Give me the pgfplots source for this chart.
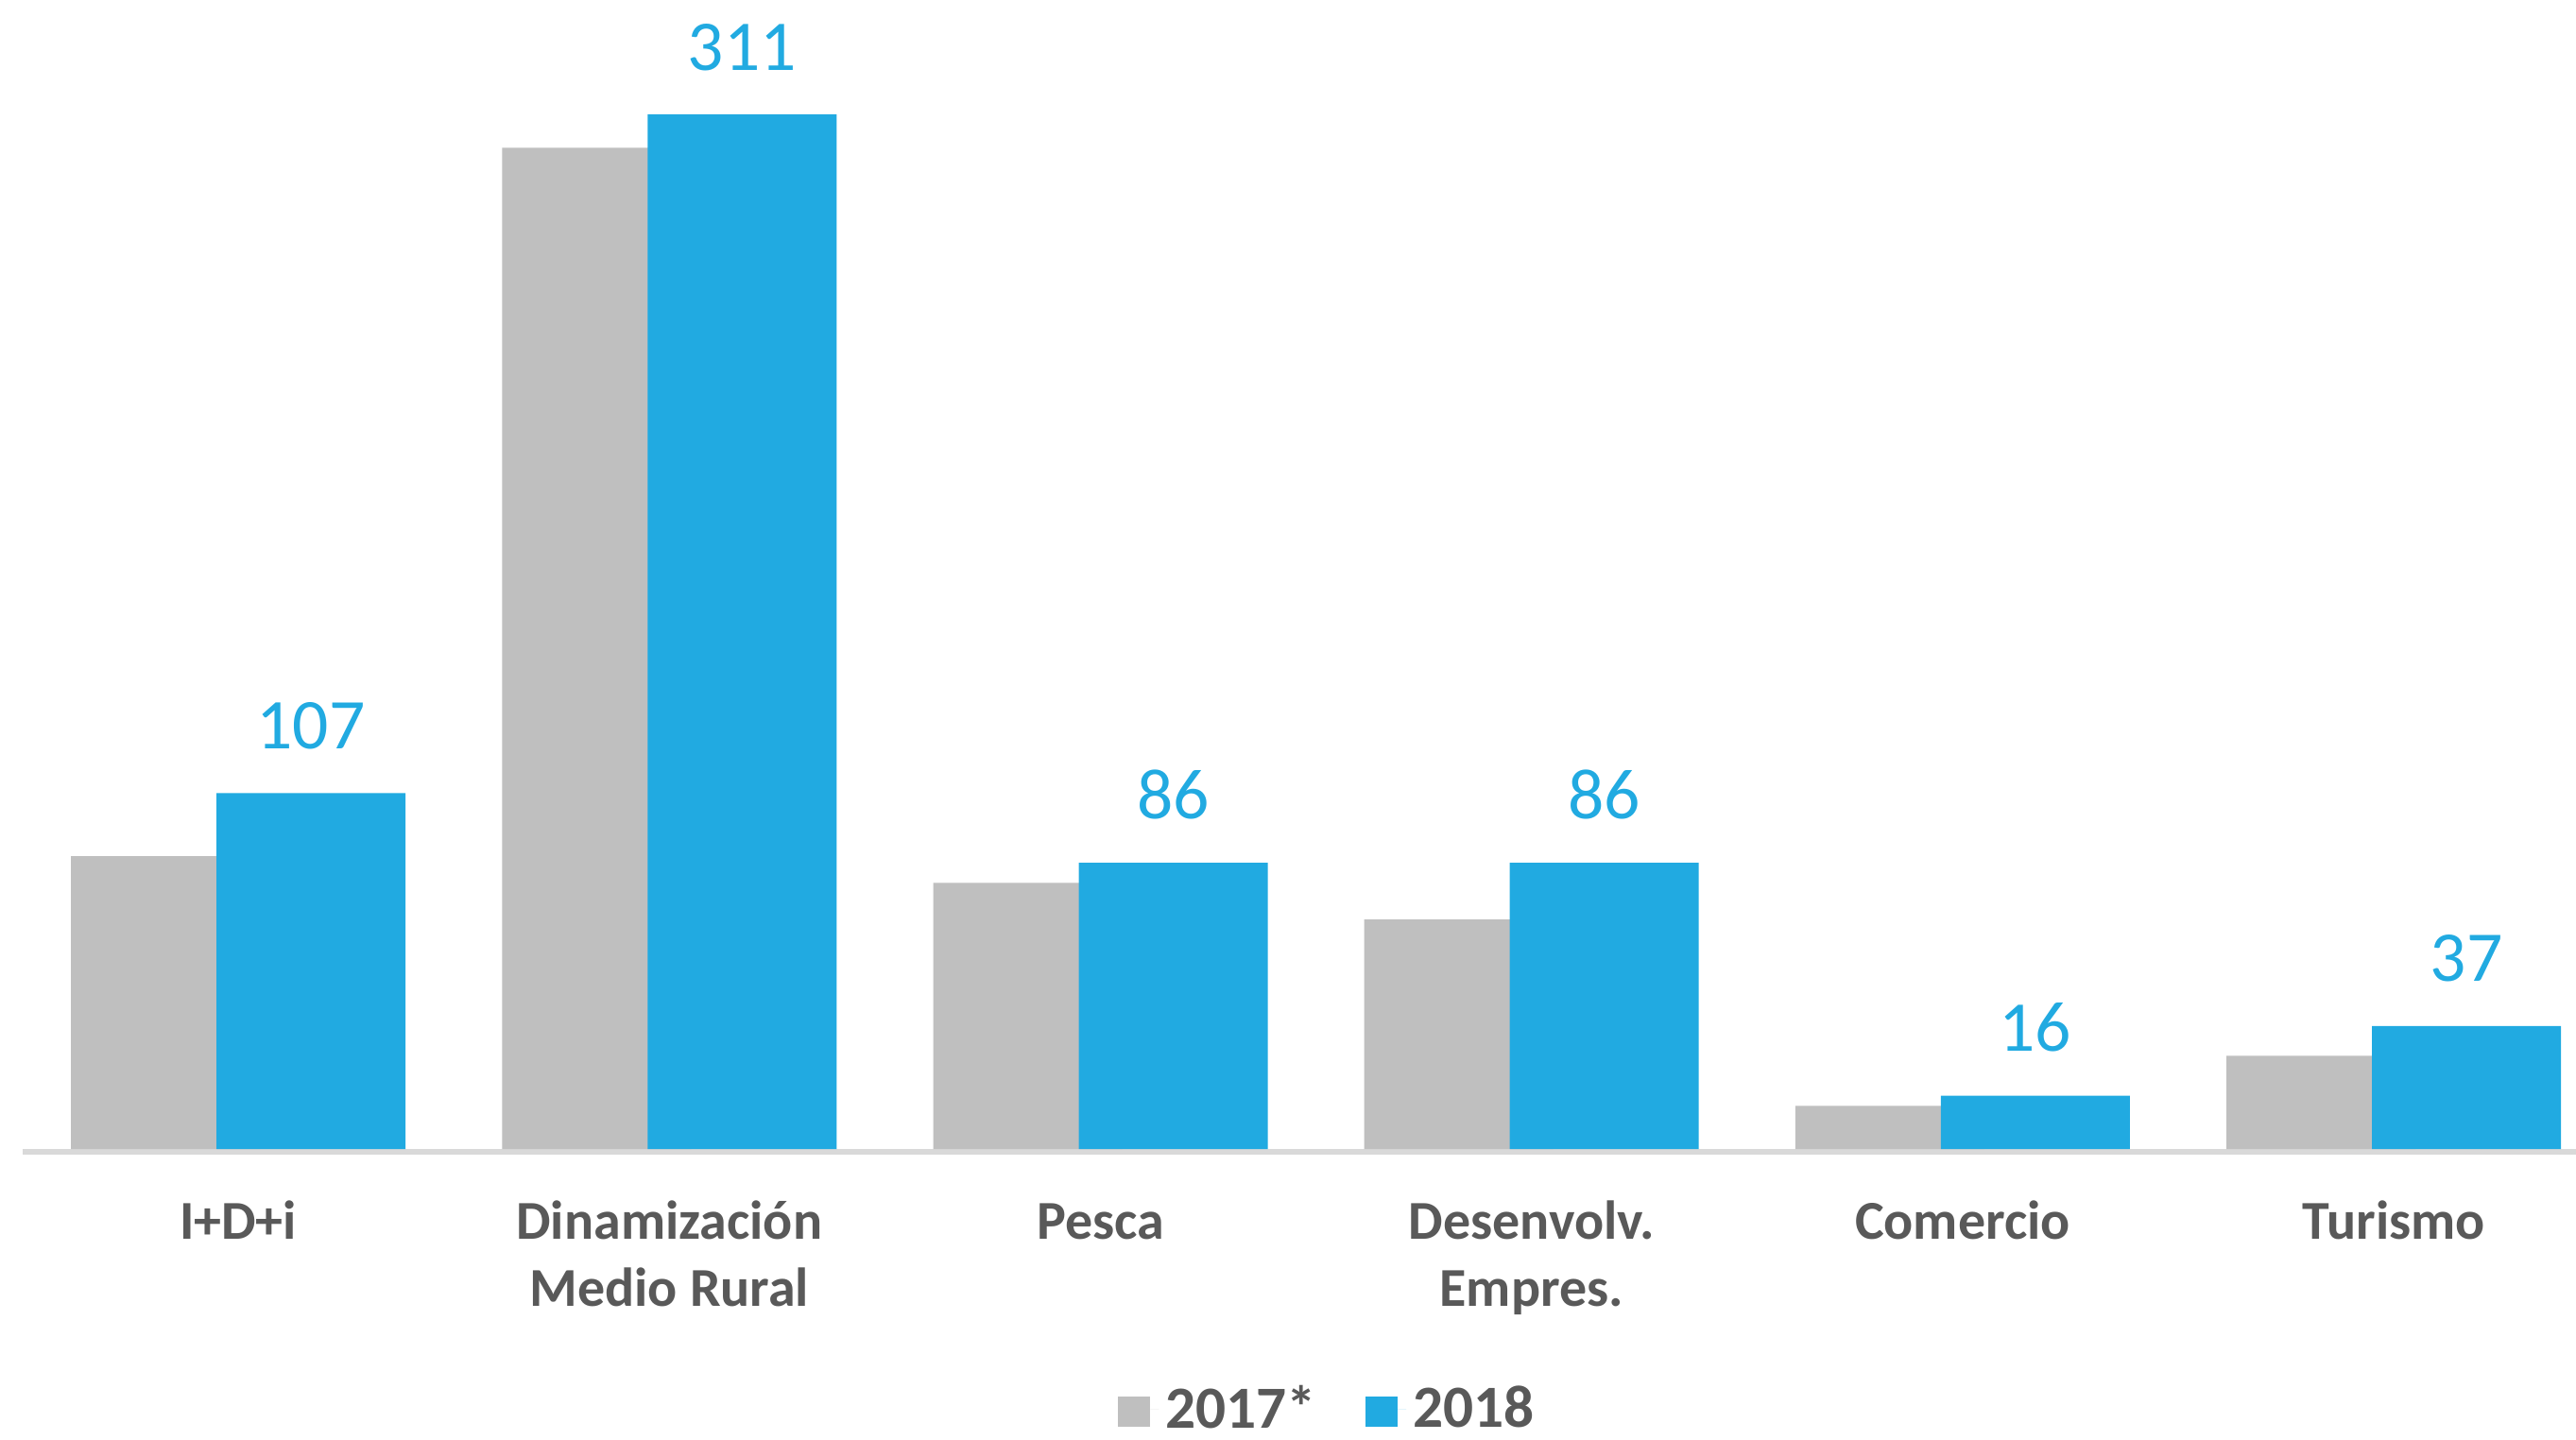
\documentclass[border=0pt]{standalone}
\usepackage{fontspec}
\setmainfont{Carlito}
\usepackage{pgfplots}
\pgfplotsset{compat=1.18}
\definecolor{barblue}{HTML}{21AAE1}
\definecolor{bargray}{HTML}{BFBFBF}
\definecolor{txtgray}{HTML}{595959}
\definecolor{axgray}{HTML}{D9D9D9}
\pgfplotstableread{
x v2017 v2018
0 88 107
1 301 311
2 80 86
3 69 86
4 13 16
5 28 37
}\datatable
\begin{document}
\begin{tikzpicture}
\begin{axis}[
  at={(0.24cm,3.07cm)}, anchor=south west,
  scale only axis, width=27.02cm, height=11.97cm,
  xmin=-0.5, xmax=5.4228, ymin=0, ymax=340,
  enlargelimits=false, clip=false,
  /pgf/number format/assume math mode=true,
  ybar,
  axis y line=none,
  axis x line*=bottom,
  x axis line style={-, draw=axgray, line width=0.6mm, yshift=-0.3mm},
  xtick={0,...,5},
  xticklabels={{\strut I+D+i},{\strut Dinamización\\Medio Rural},{\strut Pesca},{\strut Desenvolv.\\Empres.},{\strut Comercio},{\strut Turismo}},
  major tick length=0pt,
  xticklabel style={align=center, font=\bfseries\fontsize{16.5}{20.2}\selectfont, text=txtgray, anchor=north, inner sep=0pt, yshift=-4.53mm},
  ytick=\empty,
  legend style={at={(rel axis cs:0.5118,-0.2300)}, anchor=center, legend columns=2, draw=none,
    font=\bfseries\fontsize{18}{20}\selectfont, text=txtgray,
    /tikz/every even column/.append style={column sep=4.5mm}},
  legend image code/.code={\fill[#1] (0,-1.9mm) rectangle (3.4mm,1.3mm); \path (3.4mm,0) -- (4.3mm,0);},
]
\addplot[ybar, bar width=0.4384, bar shift=-0.1688, fill=bargray, draw=none] table[x=x, y=v2017] {\datatable};
\addlegendentry{2017*}
\addplot[ybar, bar width=0.4384, bar shift=0.1688, fill=barblue, draw=none,
  nodes near coords,
  every node near coord/.append style={font=\fontsize{21.5}{24}\selectfont, text=barblue, anchor=base, inner sep=0pt, yshift=4.7mm}] table[x=x, y=v2018] {\datatable};
\addlegendentry{2018}
\end{axis}
\pgfresetboundingbox
\useasboundingbox (0,0) rectangle (27.26cm,15.23cm);
\end{tikzpicture}
\end{document}
